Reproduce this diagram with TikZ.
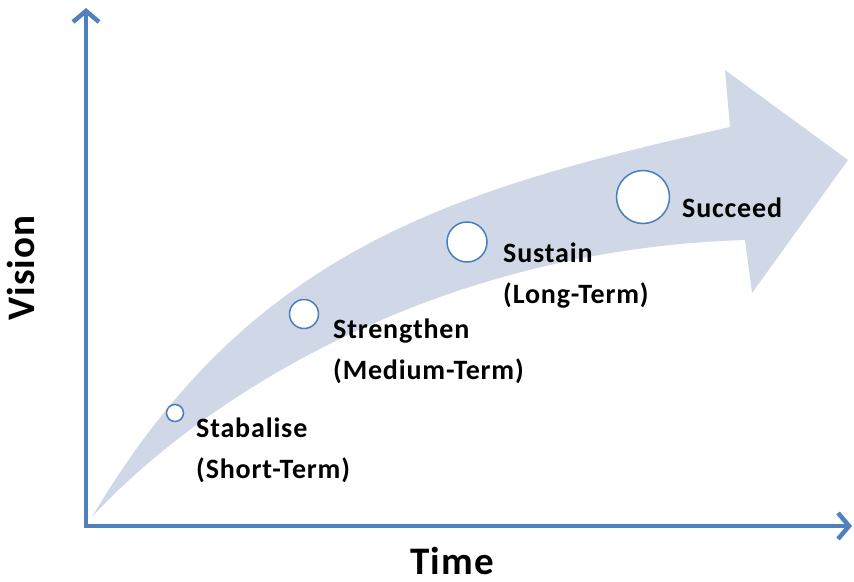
\documentclass[tikz,border=0pt]{standalone}
\usepackage{fontspec}
\setmainfont{Carlito}[LetterSpace=3]
\usepackage{tikz}
\usetikzlibrary{arrows.meta}
\definecolor{AxisBlue}{RGB}{79,129,189}
\definecolor{BandGrey}{RGB}{208,216,232}
\definecolor{RingBlue}{RGB}{74,126,187}

\begin{document}
\begin{tikzpicture}[
    x=1pt, y=-1pt,
    axis/.style={line width=4.5pt, AxisBlue, {Straight Barb[length=11pt, width=26pt]}-{Straight Barb[length=11pt, width=26pt]}},
    milestone/.style={circle, draw=RingBlue, line width=1.5pt, fill=white, inner sep=0pt},
    stage/.style={anchor=base west, align=left, inner sep=0pt, font=\fontsize{28}{41}\selectfont\bfseries},
    axislabel/.style={inner sep=0pt, font=\fontsize{39}{42}\selectfont\bfseries}
]
    \useasboundingbox (0,0) rectangle (854,581);
    % Axes
    \coordinate (ytop) at (86,8);
    \coordinate (origin) at (86,526);
    \coordinate (xend) at (852,526);
    \draw[axis] (ytop) -- (origin) -- (xend);
    % Curved progress arrow
    \fill[BandGrey] (92,517) .. controls (250,250) and (450,190) .. (730,127)
        -- (725,70) -- (848,160) -- (752,293) -- (745,240)
        .. controls (420,250) and (190,410) .. (92,517) -- cycle;
    % Milestones
    \node[milestone, minimum size=17pt] (stab) at (175,413) {};
    \node[milestone, minimum size=29pt] (streng) at (304,314) {};
    \node[milestone, minimum size=40pt] (sust) at (467,242) {};
    \node[milestone, minimum size=53pt] (succ) at (643,197) {};
    % last-line baselines
    \node[stage] (stablabel) at (196,478) {Stabalise\\(Short-Term)};
    \node[stage] (strenglabel) at (333,379) {Strengthen\\(Medium-Term)};
    \node[stage] (sustlabel) at (503,303) {Sustain\\(Long-Term)};
    \node[stage] (succlabel) at (682,217) {Succeed};
    % Axis labels
    \node[axislabel, rotate=90, anchor=base] (vision) at (34,268) {Vision};
    \node[axislabel, anchor=base west] (time) at (410,574) {Time};
\end{tikzpicture}
\end{document}
